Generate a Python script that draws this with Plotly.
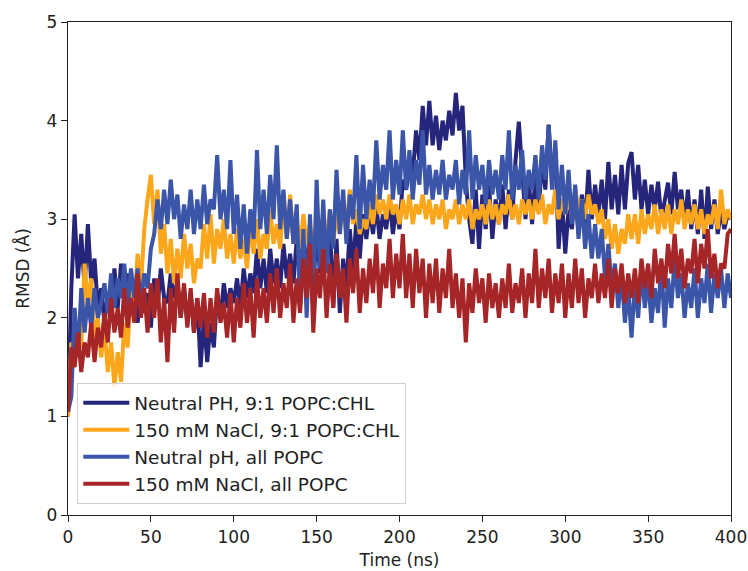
import plotly.graph_objects as go

# Simulation time grid (ns), one sample every 2 ns
time_ns = list(range(0, 401, 2))

# RMSD (Å) for each system
neutral_chl = [
    1.0, 2.3, 3.05, 2.4, 2.85, 2.3, 2.95, 2.35, 2.6, 2.1,
    2.3, 1.95, 2.25, 2.0, 2.5, 2.1, 2.55, 2.2, 2.45, 2.05,
    2.2, 1.95, 2.3, 2.05, 2.25, 1.9, 2.4, 2.1, 2.5, 2.2,
    2.15, 2.45, 2.2, 2.35, 2.0, 2.3, 1.95, 2.25, 1.85, 2.2,
    1.5, 2.0, 1.55, 1.95, 1.7, 2.25, 2.0, 2.35, 2.1, 2.3,
    2.15, 2.4, 2.1, 2.5, 2.2, 2.45, 2.25, 2.7, 2.3, 2.6,
    2.25, 2.7, 2.35, 2.6, 2.3, 2.75, 2.4, 2.65, 2.35, 2.8,
    2.4, 2.85, 2.5, 2.75, 2.3, 2.9, 2.45, 3.05, 2.6, 2.95,
    2.1, 2.8, 2.05, 2.6, 2.3, 2.9, 2.5, 3.0, 2.6, 3.05,
    2.8, 3.1, 2.85, 3.15, 2.8, 3.05, 2.9, 3.2, 2.85, 3.1,
    2.9, 3.4, 3.3, 3.5, 3.45, 3.9, 3.6, 4.15, 3.75, 4.2,
    3.75, 4.05, 3.7, 4.0, 3.8, 4.1, 3.85, 4.28, 3.9, 4.15,
    3.4, 3.0, 2.75, 3.3, 2.7, 3.25, 2.9, 3.35, 2.8, 3.2,
    2.95, 3.35, 2.9, 3.3, 3.0, 3.6, 3.99, 3.5, 3.0, 3.4,
    2.95, 3.45, 3.1, 3.6, 3.3, 3.96, 3.4, 3.7, 2.7, 3.2,
    2.65, 3.1, 2.9, 3.3, 2.85, 3.25, 2.95, 3.5, 3.0, 3.35,
    3.05, 3.4, 3.0, 3.58, 3.1, 3.45, 3.05, 3.55, 3.1, 3.57,
    3.68, 3.2, 3.55, 3.1, 3.4, 3.05, 3.35, 3.1, 3.38, 3.0,
    3.2, 3.37, 3.05, 3.48, 3.1, 3.3, 2.95, 3.3, 2.9, 3.2,
    2.85, 3.3, 2.8, 3.33, 2.9, 3.2, 2.85, 3.1, 2.9, 3.05,
    3.0,
]

nacl_chl = [
    1.0, 1.75, 1.5, 1.9, 1.7, 2.55, 2.15, 2.4, 1.75, 2.0,
    1.6, 1.9, 1.45, 1.75, 1.3, 1.65, 1.35, 1.95, 1.7, 2.3,
    2.1, 2.65, 2.3, 2.9, 3.2, 3.45, 2.95, 3.3, 2.65, 2.95,
    2.45, 2.8, 2.35, 2.7, 2.4, 2.85, 2.5, 2.75, 2.35, 2.6,
    2.5, 2.95, 2.6, 3.05, 2.55, 2.9, 2.7, 3.0, 2.6, 2.85,
    2.55, 2.9, 2.6, 2.8, 2.5, 2.95, 2.65, 3.0, 2.6, 2.85,
    2.7, 3.1, 2.75, 2.95, 2.7, 3.2, 2.8, 3.25, 2.75, 3.0,
    2.7, 3.05, 2.75, 2.95, 2.65, 3.05, 2.7, 2.9, 2.8, 3.1,
    2.75, 3.05, 2.85, 3.2, 2.9, 3.3, 2.95, 3.1, 2.85, 3.0,
    2.9, 3.15, 2.95, 3.25, 3.05, 3.2, 3.0, 3.25, 3.05, 3.15,
    2.95, 3.2, 3.0, 3.25, 2.95, 3.15, 3.05, 3.25, 3.0, 3.2,
    2.95, 3.15, 3.0, 3.2, 2.9, 3.1, 3.0, 3.2, 2.95, 3.15,
    3.0, 3.2, 2.9, 3.1, 3.0, 3.15, 2.95, 3.2, 3.0, 3.15,
    2.95, 3.15, 3.05, 3.25, 3.0, 3.15, 2.95, 3.2, 3.05, 3.2,
    3.0, 3.2, 3.05, 3.25, 2.95, 3.15, 3.05, 3.3, 3.0, 3.2,
    3.05, 3.25, 3.0, 3.3, 3.1, 3.2, 3.0, 3.25, 3.05, 3.15,
    2.95, 3.1, 2.8, 3.0, 2.7, 2.95, 2.65, 2.9, 2.75, 3.05,
    2.8, 3.05, 2.75, 3.1, 2.85, 3.05, 2.9, 3.15, 2.85, 3.1,
    2.9, 3.15, 2.85, 3.1, 2.95, 3.2, 2.9, 3.1, 2.95, 3.15,
    2.9, 3.1, 2.85, 3.05, 2.95, 3.15, 2.9, 3.3, 2.95, 3.1,
    3.0,
]

neutral_popc = [
    1.05, 1.2, 2.1, 1.6, 2.3, 1.85, 2.2, 1.9, 2.3, 2.0,
    2.15, 2.35, 2.05, 2.45, 2.1, 2.4, 2.2, 2.55, 2.1, 2.5,
    2.2, 2.5, 2.15, 2.45, 2.3, 2.7, 2.85, 3.2, 2.9, 3.3,
    2.95, 3.4, 3.0, 3.25, 2.8, 3.15, 2.9, 3.3, 2.85, 3.2,
    2.9, 3.35, 2.95, 3.2, 3.1, 3.65, 3.0, 3.3, 2.9, 3.6,
    2.85, 3.25, 2.7, 3.15, 2.65, 3.1, 2.8, 3.7, 2.9, 3.3,
    2.85, 3.45, 3.0, 3.75, 2.9, 3.3, 2.8, 3.2, 2.75, 3.15,
    2.1, 2.9, 2.0, 3.05, 2.2, 3.4, 2.5, 3.2, 2.45, 3.1,
    2.7, 3.5, 2.85, 3.3, 2.75, 3.25, 3.0, 3.65, 2.9, 3.55,
    3.0, 3.4, 3.1, 3.8, 3.2, 3.55, 3.3, 3.9, 3.2, 3.6,
    3.25, 3.9, 3.3, 3.7, 3.2, 3.6, 3.35, 3.9, 3.25, 3.55,
    3.2, 3.5, 3.25, 3.6, 3.2, 3.45, 3.3, 3.6, 3.15, 3.5,
    3.25, 3.9, 3.2, 3.65, 3.3, 3.55, 3.15, 3.6, 3.25, 3.5,
    3.2, 3.65, 3.3, 3.9, 3.2, 3.55, 3.3, 3.7, 3.2, 3.5,
    3.3, 3.65, 3.2, 3.75, 3.4, 3.95, 3.3, 3.8, 3.1, 3.55,
    3.05, 3.5, 2.95, 3.35, 2.8, 3.2, 2.7, 3.05, 2.6, 2.95,
    2.6, 2.9, 2.4, 2.75, 2.3, 2.55, 2.1, 2.45, 1.95, 2.3,
    1.8, 2.35, 2.0, 2.5, 2.1, 2.4, 1.95, 2.3, 2.05, 2.55,
    1.9, 2.4, 2.1, 2.6, 2.2, 2.45, 2.0, 2.35, 2.1, 2.5,
    2.0, 2.4, 2.15, 2.55, 2.05, 2.45, 2.2, 2.5, 2.1, 2.45,
    2.2,
]

nacl_popc = [
    1.05, 1.7, 1.5, 1.85, 1.45, 1.75, 1.6, 1.95, 1.55, 1.9,
    1.7, 2.05, 1.75, 2.2, 1.85, 2.1, 1.8, 2.3, 1.9, 2.2,
    1.95, 2.45, 2.0, 2.3, 1.85, 2.35, 2.0, 2.4, 1.75, 2.2,
    1.55, 2.3, 1.85, 2.45, 2.0, 2.35, 1.9, 2.3, 1.85, 2.2,
    1.9, 2.25, 1.8, 2.2, 1.85, 2.3, 1.95, 2.15, 1.8, 2.25,
    1.75, 2.2, 1.9, 2.35, 1.95, 2.3, 1.8, 2.4, 2.0, 2.3,
    1.95, 2.45, 2.05, 2.5, 2.0, 2.35, 2.1, 2.55, 1.95, 2.4,
    2.05, 2.6, 2.2, 2.75, 1.85, 2.5, 2.2, 2.7, 2.0, 2.55,
    2.1, 2.65, 2.2, 2.5, 1.95, 2.6, 2.25, 2.7, 2.05, 2.5,
    2.15, 2.6, 2.25, 2.75, 2.1, 2.55, 2.3, 2.8, 2.2, 2.65,
    2.3, 2.85, 2.2, 2.65, 2.1, 2.7, 2.25, 2.6, 2.0, 2.55,
    2.15, 2.6, 2.05, 2.5, 2.2, 2.7, 2.1, 2.45, 2.0, 2.4,
    1.75, 2.35, 2.05, 2.5, 2.15, 2.4, 1.95, 2.45, 2.1, 2.35,
    2.0, 2.4, 2.1, 2.55, 2.05, 2.35, 2.15, 2.5, 2.0, 2.45,
    2.15, 2.7, 2.1, 2.5, 2.2, 2.6, 2.05, 2.45, 2.15, 2.55,
    2.0, 2.45, 2.1, 2.6, 2.15, 2.5, 2.0, 2.4, 2.2, 2.55,
    2.15, 2.45, 2.2, 2.6, 2.1, 2.5, 2.25, 2.55, 2.15, 2.45,
    2.2, 2.5, 2.15, 2.6, 2.3, 2.55, 2.2, 2.7, 2.35, 2.6,
    2.3, 2.75, 2.45, 2.85, 2.4, 2.7, 2.3, 2.6, 2.45, 2.8,
    2.35, 2.75, 2.5, 2.9, 2.4, 2.65, 2.3, 2.55, 2.5, 2.85,
    2.9,
]

series = [
    ("Neutral PH, 9:1 POPC:CHL", neutral_chl, "#25267b"),
    ("150 mM NaCl, 9:1 POPC:CHL", nacl_chl, "#fca61c"),
    ("Neutral pH, all POPC", neutral_popc, "#3b55a8"),
    ("150 mM NaCl, all POPC", nacl_popc, "#a62628"),
]

fig = go.Figure()
for name, values, color in series:
    assert len(values) == len(time_ns)
    fig.add_trace(go.Scatter(
        x=time_ns, y=values, name=name, mode="lines",
        line=dict(color=color, width=4.0),
    ))

axis_common = dict(
    showgrid=False, zeroline=False, automargin=False,
    showline=True, linecolor="#222", linewidth=1.3, mirror=True,
    ticks="outside", ticklen=6, tickwidth=1.3, tickcolor="#222",
    tickfont=dict(size=17, color="#222"),
)

fig.update_layout(
    width=748, height=571,
    margin=dict(l=68, r=17, t=22, b=56),
    plot_bgcolor="white", paper_bgcolor="white",
    font=dict(family="DejaVu Sans", size=17, color="#222"),
    xaxis=dict(range=[0, 400], tickmode="array", tickvals=list(range(0, 401, 50)),
               title=dict(text="Time (ns)", standoff=8, font=dict(size=17)),
               **axis_common),
    yaxis=dict(range=[0, 5], tickmode="array", tickvals=[0, 1, 2, 3, 4, 5],
               title=dict(text="RMSD (Å)", standoff=12, font=dict(size=17)),
               **axis_common),
    legend=dict(
        x=0.014, y=0.022, xanchor="left", yanchor="bottom",
        bgcolor="rgba(255,255,255,0.85)", bordercolor="#d0d0d0", borderwidth=1,
        font=dict(size=18.5, color="#222"),
        tracegroupgap=0, itemwidth=46,
    ),
)

fig.write_html("out.html")
